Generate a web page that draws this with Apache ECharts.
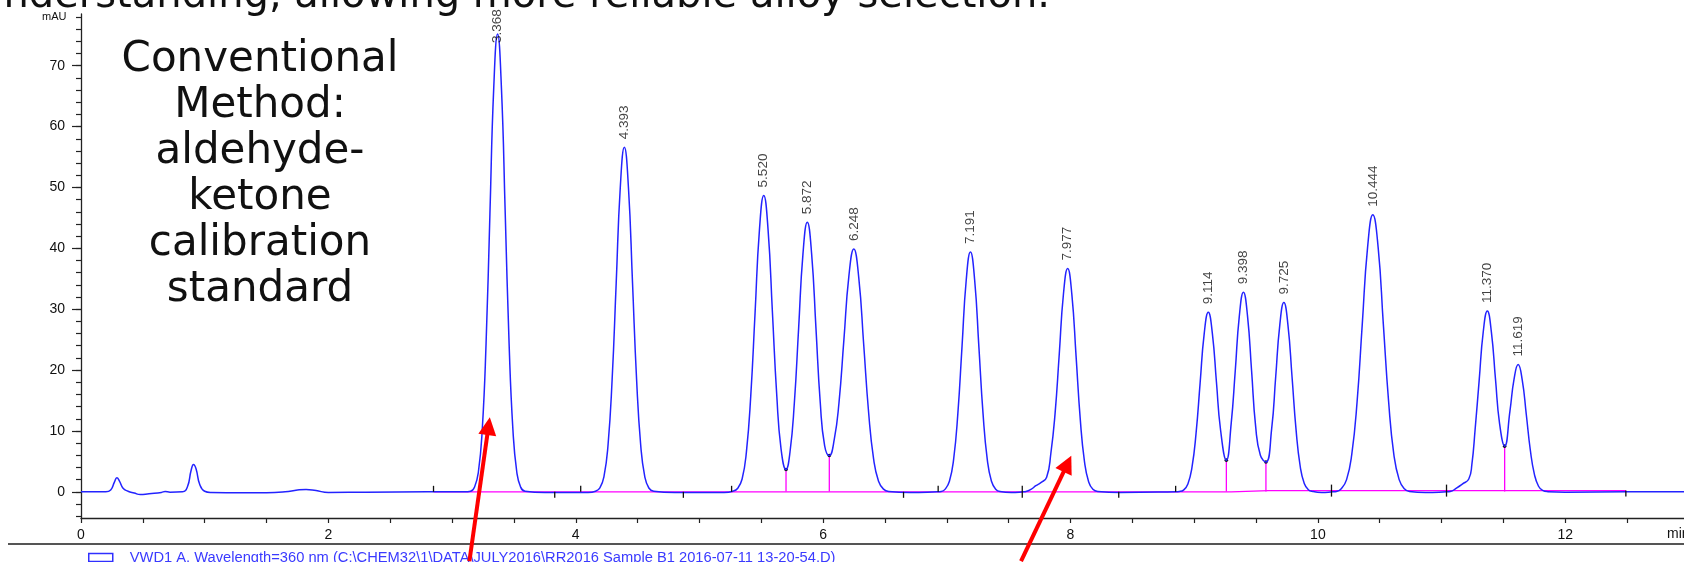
<!DOCTYPE html>
<html>
<head>
<meta charset="utf-8">
<script src="https://cdn.jsdelivr.net/npm/echarts@6/dist/echarts.min.js"></script>
<style>
  html, body { margin: 0; padding: 0; background: #fff; }
  #chart { width: 1684px; height: 562px; }
</style>
</head>
<body>
<div id="chart"></div>
<script>
// detector trace, [time (min), signal (mAU)]
const trace = [
  [0, 0], [0.2, 0], [0.24, 0.3], [0.27, 1.6], [0.29, 2.3], [0.31, 1.8], [0.34, 0.6], [0.38, 0.1],
  [0.43, -0.2], [0.48, -0.45], [0.55, -0.3], [0.65, -0.1], [0.68, 0.05], [0.72, -0.05], [0.82, 0],
  [0.86, 0.8], [0.89, 3.5], [0.91, 4.5], [0.93, 3.8], [0.96, 1.2], [1.0, 0.1], [1.05, -0.1],
  [1.3, -0.15], [1.5, -0.15], [1.65, 0], [1.75, 0.3], [1.82, 0.4], [1.9, 0.2], [2.0, -0.1],
  [2.3, -0.05], [2.8, 0], [3.1, 0],
  // 3.368
  [3.15, 0.1], [3.182, 0.8], [3.213, 3.3], [3.244, 10.2], [3.275, 24.4], [3.306, 45.6], [3.337, 66.4],
  [3.368, 75.2], [3.399, 66.4], [3.43, 45.6], [3.461, 24.4], [3.492, 10.2], [3.523, 3.3], [3.554, 0.8],
  [3.59, 0.1], [3.75, -0.1], [4.1, -0.1],
  // 4.393
  [4.16, 0.1], [4.195, 0.63], [4.228, 2.5], [4.261, 7.7], [4.294, 18.4], [4.327, 34.3], [4.36, 50.0],
  [4.393, 56.6], [4.426, 50.0], [4.459, 34.3], [4.492, 18.4], [4.525, 7.7], [4.558, 2.5], [4.591, 0.63],
  [4.63, 0.1], [4.8, -0.1], [5.2, -0.1],
  // 5.520 / 5.872 / 6.248
  [5.27, 0.1], [5.31, 0.6], [5.345, 2.1], [5.38, 6.6], [5.415, 15.8], [5.45, 29.5], [5.485, 43.0],
  [5.52, 48.7], [5.555, 43.0], [5.59, 29.5], [5.625, 15.9], [5.66, 7.0], [5.70, 3.66],
  [5.732, 6.5], [5.767, 14.5], [5.802, 26.9], [5.837, 39.1], [5.872, 44.3], [5.907, 39.1],
  [5.942, 26.9], [5.977, 14.6], [6.012, 7.6], [6.05, 5.96], [6.09, 8.6], [6.128, 14.6],
  [6.168, 25.0], [6.208, 35.4], [6.248, 39.9], [6.288, 35.2], [6.328, 24.2], [6.368, 13.0],
  [6.408, 5.4], [6.448, 1.75], [6.488, 0.44], [6.53, 0.05], [6.7, -0.1], [6.92, 0],
  // 7.191
  [6.955, 0.05], [6.987, 0.44], [7.021, 1.73], [7.055, 5.33], [7.089, 12.8], [7.123, 23.9], [7.157, 34.8],
  [7.191, 39.4], [7.225, 34.8], [7.259, 23.9], [7.293, 12.8], [7.327, 5.33], [7.361, 1.73], [7.395, 0.44],
  [7.43, 0.05], [7.52, -0.1], [7.62, 0],
  // 7.977 with front shoulder
  [7.64, 0.05], [7.68, 0.4], [7.72, 1.0], [7.76, 1.5], [7.807, 2.4], [7.841, 6.3], [7.875, 12.8],
  [7.909, 22.6], [7.943, 32.5], [7.977, 36.7], [8.011, 32.4], [8.045, 22.3], [8.079, 11.9],
  [8.113, 4.97], [8.147, 1.61], [8.181, 0.41], [8.22, 0.05], [8.4, -0.1], [8.85, 0],
  // 9.114 / 9.398 / 9.725
  [8.88, 0.05], [8.916, 0.33], [8.949, 1.3], [8.982, 4.0], [9.015, 9.6], [9.048, 17.9], [9.081, 26.0],
  [9.114, 29.5], [9.147, 26.0], [9.18, 18.0], [9.213, 10.2], [9.26, 5.2], [9.299, 11.2],
  [9.332, 19.9], [9.365, 28.9], [9.398, 32.8], [9.431, 28.9], [9.464, 19.9], [9.497, 10.7],
  [9.535, 6.0], [9.58, 4.9], [9.626, 10.3], [9.659, 18.9], [9.692, 27.4], [9.725, 31.1],
  [9.758, 27.4], [9.791, 18.9], [9.824, 10.1], [9.857, 4.2], [9.89, 1.37], [9.923, 0.35],
  [9.96, 0.05], [10.03, -0.1], [10.12, 0],
  // 10.444
  [10.15, 0.05], [10.189, 0.5], [10.232, 2.0], [10.274, 6.16], [10.317, 14.8], [10.359, 27.6],
  [10.402, 40.2], [10.444, 45.5], [10.487, 40.2], [10.529, 27.6], [10.572, 14.8], [10.614, 6.16],
  [10.657, 2.0], [10.699, 0.5], [10.74, 0.05], [10.87, -0.1], [11.04, 0],
  // 11.370 with front shoulder / 11.619
  [11.07, 0.05], [11.12, 0.6], [11.17, 1.3], [11.22, 2.1], [11.245, 4.5], [11.271, 10.2],
  [11.304, 18.3], [11.337, 26.3], [11.37, 29.7], [11.403, 26.2], [11.436, 18.5], [11.469, 11.2],
  [11.51, 7.5], [11.553, 13.3], [11.586, 18.5], [11.619, 20.9], [11.652, 18.4], [11.685, 12.7],
  [11.718, 6.79], [11.751, 2.83], [11.784, 0.92], [11.817, 0.23], [11.86, 0.03], [12.0, -0.05],
  [12.5, 0], [12.96, 0]
];

const peakTimes = [3.368, 4.393, 5.520, 5.872, 6.248, 7.191, 7.977, 9.114, 9.398, 9.725, 10.444, 11.370, 11.619];
const peakHeights = [75.2, 56.6, 48.7, 44.3, 39.9, 39.4, 36.7, 29.5, 32.8, 31.1, 45.5, 29.7, 20.9];

// integration baseline and drop lines (magenta)
const baseline = [[2.85, 0], [9.3, 0], [9.6, 0.2], [12.49, 0.2]];
const dropTimes = [5.70, 6.05, 9.26, 9.58, 11.51];
const dropHeights = [3.66, 5.96, 5.2, 4.9, 7.5];

// integration event ticks: [time, level]
const eventStart = [[2.85, 0], [4.04, 0], [5.26, 0], [6.93, 0], [8.85, 0]];
const eventEnd = [[3.83, 0], [4.87, 0], [6.65, 0], [8.39, 0], [12.49, 0.2]];
const eventCross = [[7.61, 0], [10.11, 0.2], [11.04, 0.2]];

const yLabelValues = [0, 10, 20, 30, 40, 50, 60, 70];
const yTickValues = [-4, -2, 0, 2, 4, 6, 8, 10, 12, 14, 16, 18, 20, 22, 24, 26, 28, 30, 32, 34, 36, 38,
  40, 42, 44, 46, 48, 50, 52, 54, 56, 58, 60, 62, 64, 66, 68, 70, 72, 74, 76, 78];

// slide annotations: red arrows [tail, tip] in data space
const arrows = [
  [[3.14, -11.4], [3.295, 10.8]],
  [[7.60, -11.4], [7.975, 4.6]]
];

const traceName = 'VWD1 A, Wavelength=360 nm (C:\\CHEM32\\1\\DATA\\JULY2016\\RR2016 Sample B1 2016-07-11 13-20-54.D)';
const slideText = 'understanding, allowing more reliable alloy selection.';
const boxText = 'Conventional\nMethod:\naldehyde-\nketone\ncalibration\nstandard';

const chart = echarts.init(document.getElementById('chart'), null, { renderer: 'canvas' });

function tickItem(kind) {
  return function (params, api) {
    const p = api.coord([api.value(0), api.value(1)]);
    let y1 = p[1], y2 = p[1];
    if (kind === 'up') y1 = p[1] - 6;
    else if (kind === 'down') y2 = p[1] + 6;
    else { y1 = p[1] - 6; y2 = p[1] + 6; }
    return {
      type: 'line',
      shape: { x1: p[0], y1: y1, x2: p[0], y2: y2 },
      style: { stroke: '#111', lineWidth: 1.3 }
    };
  };
}

const axisFont = 'Liberation Sans, Arial, sans-serif';
const slideFont = '"DejaVu Sans", sans-serif';

const option = {
  animation: false,
  backgroundColor: '#fff',
  grid: { left: 81, right: 0, top: 14, bottom: 44, containLabel: false },
  legend: {
    left: 83,
    top: 545,
    icon: 'rect',
    itemWidth: 24,
    itemHeight: 8,
    selectedMode: false,
    itemStyle: { color: '#fff', borderColor: '#3030ff', borderWidth: 1.5 },
    textStyle: { color: '#3a3aff', fontSize: 14.7, fontFamily: axisFont, padding: [0, 0, 0, 12] },
    data: [traceName]
  },
  xAxis: {
    type: 'value',
    min: 0,
    max: 12.96,
    interval: 0.5,
    axisLine: { show: true, onZero: false, lineStyle: { color: '#222', width: 1.3 } },
    axisTick: { show: true, length: 5, lineStyle: { color: '#222', width: 1.2 } },
    axisLabel: {
      color: '#111',
      fontSize: 14,
      fontFamily: axisFont,
      margin: 10,
      showMaxLabel: false,
      formatter: v => (Math.abs(v % 2) < 1e-9 ? String(v) : '')
    },
    splitLine: { show: false }
  },
  yAxis: [
    {
      type: 'value',
      min: -4.3,
      max: 78.5,
      axisLine: { show: true, lineStyle: { color: '#222', width: 1.3 } },
      axisTick: { show: true, customValues: yTickValues, length: 5, lineStyle: { color: '#222', width: 1.2 } },
      axisLabel: { customValues: yLabelValues, color: '#111', fontSize: 14, fontFamily: axisFont, margin: 16 },
      splitLine: { show: false }
    },
    {
      type: 'value',
      min: -4.3,
      max: 78.5,
      position: 'left',
      axisLine: { show: false },
      axisTick: { show: true, customValues: yLabelValues, length: 9, lineStyle: { color: '#222', width: 1.2 } },
      axisLabel: { show: false },
      splitLine: { show: false }
    }
  ],
  series: [
    {
      name: 'baseline',
      type: 'line',
      data: baseline,
      showSymbol: false,
      silent: true,
      lineStyle: { color: '#ff00ff', width: 1.3 },
      z: 3
    },
    {
      name: 'drops',
      type: 'custom',
      data: dropTimes.map((t, i) => [t, dropHeights[i]]),
      renderItem(params, api) {
        const p0 = api.coord([api.value(0), 0.05]);
        const p1 = api.coord([api.value(0), api.value(1)]);
        return {
          type: 'group',
          children: [
            { type: 'line', shape: { x1: p0[0], y1: p0[1], x2: p1[0], y2: p1[1] }, style: { stroke: '#ff00ff', lineWidth: 1.3 } },
            { type: 'circle', shape: { cx: p1[0], cy: p1[1], r: 1.8 }, style: { fill: '#111' } }
          ]
        };
      },
      z: 3
    },
    {
      name: traceName,
      type: 'line',
      data: trace,
      showSymbol: false,
      smooth: 0.5,
      lineStyle: { color: '#2323ff', width: 1.5 },
      itemStyle: { color: '#2323ff' },
      z: 4
    },
    { name: 'evStart', type: 'custom', data: eventStart, renderItem: tickItem('up'), z: 5 },
    { name: 'evEnd', type: 'custom', data: eventEnd, renderItem: tickItem('down'), z: 5 },
    { name: 'evCross', type: 'custom', data: eventCross, renderItem: tickItem('cross'), z: 5 },
    {
      name: 'peakLabels',
      type: 'scatter',
      symbolSize: 0,
      silent: true,
      data: peakTimes.map((t, i) => ({
        value: [t, peakHeights[i]],
        // tallest peak label is pushed down to stay inside the plot
        label: peakHeights[i] > 72 ? { distance: -9 } : undefined
      })),
      label: {
        show: true,
        position: 'top',
        distance: 8,
        rotate: 90,
        align: 'left',
        verticalAlign: 'middle',
        color: '#111',
        fontSize: 13.5,
        fontFamily: axisFont,
        formatter: p => p.value[0].toFixed(3)
      },
      z: 6
    },
    {
      name: 'arrows',
      type: 'lines',
      coordinateSystem: 'cartesian2d',
      clip: false,
      silent: true,
      symbol: ['none', 'triangle'],
      symbolSize: 18,
      lineStyle: { color: '#ff0000', width: 4, opacity: 1 },
      data: arrows.map(a => ({ coords: a })),
      z: 10
    }
  ],
  graphic: [
    {
      type: 'text',
      right: 634,
      top: -23,
      style: { text: slideText, fontFamily: slideFont, fontSize: 40, fill: '#111' }
    },
    {
      type: 'text',
      x: 260,
      y: 37,
      style: {
        text: boxText,
        fontFamily: slideFont,
        fontSize: 42,
        lineHeight: 46,
        align: 'center',
        verticalAlign: 'top',
        fill: '#111'
      },
      z: 20
    },
    {
      type: 'text',
      left: 42,
      top: 11,
      style: { text: 'mAU', font: '11px "Liberation Sans", Arial, sans-serif', fill: '#111' }
    },
    {
      type: 'text',
      left: 1667,
      top: 527,
      style: { text: 'min', font: '14px "Liberation Sans", Arial, sans-serif', fill: '#111' }
    },
    {
      type: 'line',
      shape: { x1: 8, y1: 544, x2: 1684, y2: 544 },
      style: { stroke: '#555', lineWidth: 2 }
    }
  ]
};

chart.setOption(option);
</script>
</body>
</html>
